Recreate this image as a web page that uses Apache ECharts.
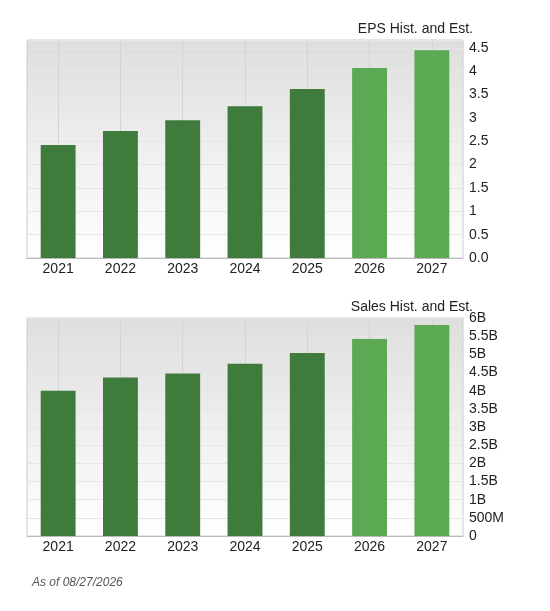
<!DOCTYPE html>
<html><head><meta charset="utf-8">
<script src="https://cdn.jsdelivr.net/npm/echarts@6/dist/echarts.min.js"></script>
<style>body{margin:0}#c{width:550px;height:611px}</style></head>
<body><div id="c"></div>
<script>
var myChart = echarts.init(document.getElementById('c'));

var years = ['2021', '2022', '2023', '2024', '2025', '2026', '2027'];
var epsValues = [2.42, 2.72, 2.95, 3.25, 3.62, 4.07, 4.45];
var salesValues = [4.0, 4.36, 4.47, 4.74, 5.04, 5.42, 5.81]; // billions
var estimateFrom = 5; // index of first estimate year

var dark = '#3f7b3c', light = '#5ba953';

function barData(vals) {
    return vals.map(function (v, i) {
        return { value: v, itemStyle: { color: i >= estimateFrom ? light : dark } };
    });
}

var gridBg = new echarts.graphic.LinearGradient(0, 0, 0, 1, [
    { offset: 0, color: '#dedede' }, { offset: 1, color: '#ffffff' }
]);

function xAxisFor(idx) {
    return {
        type: 'category', gridIndex: idx, data: years,
        axisLine: { lineStyle: { color: '#bbb' } },
        axisTick: { show: false },
        axisLabel: { color: '#222', fontSize: 14, margin: 4 },
        splitLine: { show: true, alignWithLabel: true, lineStyle: { color: '#d4d4d4' } }
    };
}

var option = {
    animation: false,
    textStyle: { fontFamily: 'Liberation Sans, Arial, sans-serif' },
    title: [
        { text: 'EPS Hist. and Est.', right: 72, top: 17, textStyle: { fontSize: 14, fontWeight: 'normal', color: '#222' } },
        { text: 'Sales Hist. and Est.', right: 72, top: 295, textStyle: { fontSize: 14, fontWeight: 'normal', color: '#222' } },
        { text: 'As of 08/27/2026', left: 27, top: 572, textStyle: { fontSize: 12, fontWeight: 'normal', fontStyle: 'italic', color: '#555' } }
    ],
    grid: [
        { left: 27, right: 87, top: 40, bottom: 353, show: true, backgroundColor: gridBg, borderColor: '#ccc' },
        { left: 27, right: 87, top: 318, bottom: 75, show: true, backgroundColor: gridBg, borderColor: '#ccc' }
    ],
    xAxis: [xAxisFor(0), xAxisFor(1)],
    yAxis: [
        {
            type: 'value', gridIndex: 0, position: 'right', min: 0, max: 4.67, interval: 0.5,
            axisLine: { show: false }, axisTick: { show: false },
            splitLine: { lineStyle: { color: '#e6e6e6' } },
            axisLabel: { showMaxLabel: false, color: '#222', fontSize: 14, margin: 6,
                formatter: function (v) { return v === 0 ? '0.0' : String(v); } }
        },
        {
            type: 'value', gridIndex: 1, position: 'right', min: 0, max: 6, interval: 0.5,
            axisLine: { show: false }, axisTick: { show: false },
            splitLine: { lineStyle: { color: '#e6e6e6' } },
            axisLabel: { color: '#222', fontSize: 14, margin: 6,
                formatter: function (v) { return v === 0 ? '0' : v === 0.5 ? '500M' : v + 'B'; } }
        }
    ],
    series: [
        { type: 'bar', xAxisIndex: 0, yAxisIndex: 0, barWidth: '56%', data: barData(epsValues) },
        { type: 'bar', xAxisIndex: 1, yAxisIndex: 1, barWidth: '56%', data: barData(salesValues) }
    ]
};

myChart.setOption(option);
</script></body></html>
